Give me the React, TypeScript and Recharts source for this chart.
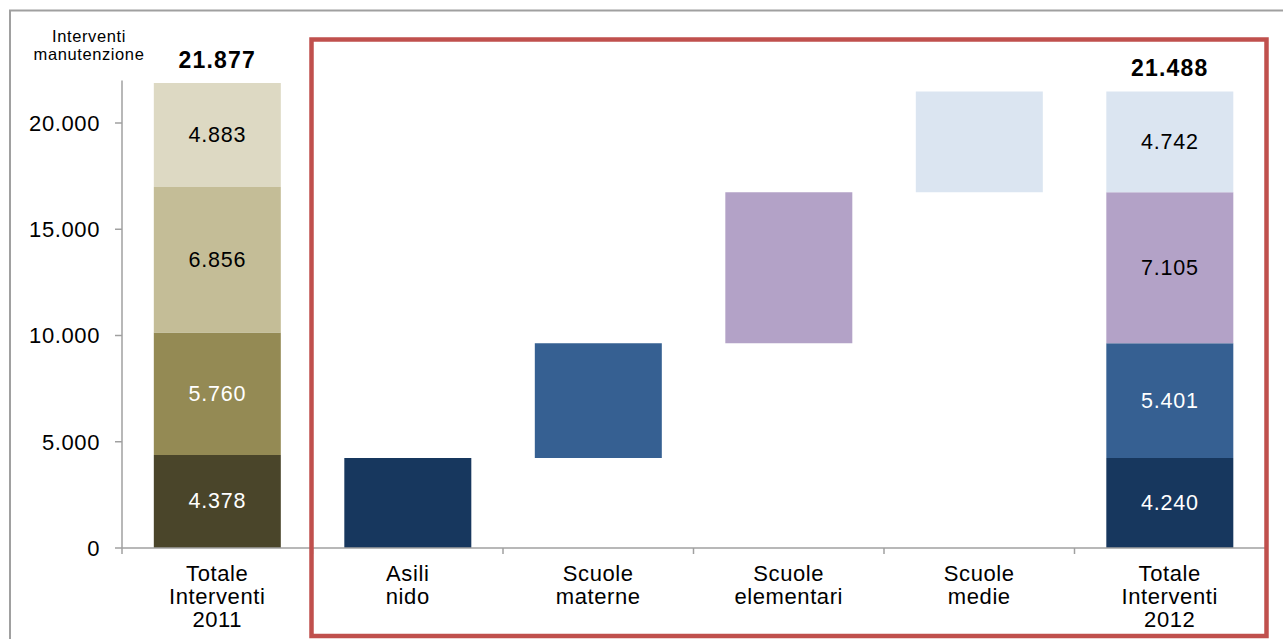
import { BarChart, Bar, XAxis, YAxis, Cell, LabelList } from 'recharts';

/* ── Data ─────────────────────────────────────── */

const categories = [
  'Totale\nInterventi\n2011',
  'Asili\nnido',
  'Scuole\nmaterne',
  'Scuole\nelementari',
  'Scuole\nmedie',
  'Totale\nInterventi\n2012',
];

// asili nido, scuole materne, scuole elementari, scuole medie
const interventi2011 = [4378, 5760, 6856, 4883];
const interventi2012 = [4240, 5401, 7105, 4742];

const yTicks = [0, 5000, 10000, 15000, 20000];

const COLORS_2011 = ['#4a452a', '#948a54', '#c4bd97', '#ddd9c3'];
const COLORS_2012 = ['#17375e', '#366092', '#b3a2c7', '#dbe5f1'];
const LABEL_COLORS = ['#ffffff', '#ffffff', '#000000', '#000000'];

const FONT = '"Liberation Sans", Arial, sans-serif';
const TOTAL_KEYS = ['t1', 't2', 't3', 't4'];
const STEP_KEYS = ['w1', 'w2', 'w3', 'w4'];

const fmt = (v: number) => v.toLocaleString('it-IT');
const sum = (arr: number[]) => arr.reduce((a, b) => a + b, 0);

/* ── Rows: 2011 stack, waterfall steps, 2012 stack ── */

type Row = Record<string, any>;

function stackRow(name: string, values: number[]): Row {
  const row: Row = { name, base: 0, total: sum(values), year: name.slice(-4) };
  values.forEach((v, i) => (row[TOTAL_KEYS[i]] = v));
  STEP_KEYS.forEach((k) => (row[k] = 0));
  return row;
}

function buildRows(): Row[] {
  const rows: Row[] = [stackRow(categories[0], interventi2011)];
  let running = 0;
  interventi2012.forEach((v, i) => {
    const row: Row = { name: categories[i + 1], base: running, total: null };
    TOTAL_KEYS.forEach((k) => (row[k] = 0));
    STEP_KEYS.forEach((k, j) => (row[k] = j === i ? v : 0));
    rows.push(row);
    running += v;
  });
  rows.push(stackRow(categories[5], interventi2012));
  return rows;
}

const rows = buildRows();

/* ── Custom ticks / labels ───────────────────── */

function CategoryTick(props: any) {
  const { x, y, payload } = props;
  const lines = String(payload.value).split('\n');
  const left = x - (payload.offset ?? 0);
  return (
    <g>
      <line x1={left} y1={y} x2={left} y2={y + 6} stroke="#a0a0a0" strokeWidth={1.5} />
      <text
        x={x}
        y={y}
        textAnchor="middle"
        fontFamily={FONT}
        fontSize={22}
        letterSpacing={0.6}
        fill="#000"
      >
        {lines.map((l, i) => (
          <tspan key={i} x={x} y={y + 33 + i * 23}>
            {l}
          </tspan>
        ))}
      </text>
    </g>
  );
}

function segmentLabel(seg: number) {
  return (props: any) => {
    const { x, y, width, height, value } = props;
    if (!value) return null;
    return (
      <text
        x={x + width / 2}
        y={y + height / 2}
        textAnchor="middle"
        dominantBaseline="central"
        fontFamily={FONT}
        fontSize={21.5}
        letterSpacing={0.8}
        fill={LABEL_COLORS[seg]}
      >
        {fmt(value)}
      </text>
    );
  };
}

function TotalLabel(props: any) {
  const { x, y, width, value } = props;
  if (!value) return null;
  return (
    <text
      x={x + width / 2}
      y={y - 15}
      textAnchor="middle"
      fontFamily={FONT}
      fontSize={23}
      letterSpacing={1.2}
      fontWeight="bold"
      fill="#000"
    >
      {fmt(value)}
    </text>
  );
}

/* ── Chart ───────────────────────────────────── */

export default function App() {
  return (
    <div style={{ position: 'absolute', left: 0, top: 0, width: 1283, height: 639, background: '#fff' }}>
      <BarChart
        width={1283}
        height={639}
        data={rows}
        margin={{ top: 80.5, right: 18, left: 0, bottom: 0 }}
        barCategoryGap="16.7%"
      >
        <XAxis
          dataKey="name"
          interval={0}
          height={91}
          tickSize={0}
          tickMargin={0}
          tickLine={false}
          axisLine={{ stroke: '#a0a0a0', strokeWidth: 1.5 }}
          tick={<CategoryTick />}
        />
        <YAxis
          width={122}
          domain={[0, 22000]}
          ticks={yTicks}
          tickFormatter={fmt}
          tickSize={7}
          tickMargin={15}
          axisLine={{ stroke: '#a0a0a0', strokeWidth: 1.5 }}
          tickLine={{ stroke: '#a0a0a0', strokeWidth: 1.5 }}
          tick={{ fontFamily: FONT, fontSize: 22, letterSpacing: 0.6, fill: '#000' }}
        />
        {/* invisible offset that lifts each waterfall step */}
        <Bar dataKey="base" stackId="a" fill="transparent" isAnimationActive={false} />

        {/* waterfall steps */}
        {STEP_KEYS.map((key, seg) => (
          <Bar key={key} dataKey={key} stackId="a" fill={COLORS_2012[seg]} isAnimationActive={false} />
        ))}

        {/* 2011 / 2012 totals, stacked by school type */}
        {TOTAL_KEYS.map((key, seg) => (
          <Bar key={key} dataKey={key} stackId="a" isAnimationActive={false}>
            {rows.map((r, i) => (
              <Cell key={i} fill={r.year === '2011' ? COLORS_2011[seg] : COLORS_2012[seg]} />
            ))}
            <LabelList dataKey={key} content={segmentLabel(seg)} />
            {seg === 3 && <LabelList dataKey="total" content={TotalLabel} />}
          </Bar>
        ))}
      </BarChart>

      <svg
        width={1283}
        height={639}
        style={{ position: 'absolute', left: 0, top: 0, pointerEvents: 'none' }}
      >
        <rect x={10} y={10.5} width={1290} height={660} fill="none" stroke="#a0a0a0" strokeWidth={2} />
        <rect x={311.5} y={39.5} width={955} height={596.5} fill="none" stroke="#c0504d" strokeWidth={4.5} />
        <text textAnchor="middle" fontFamily={FONT} fontSize={16.5} letterSpacing={0.6} fill="#000">
          <tspan x={89} y={42}>Interventi</tspan>
          <tspan x={89} y={60}>manutenzione</tspan>
        </text>
      </svg>
    </div>
  );
}
